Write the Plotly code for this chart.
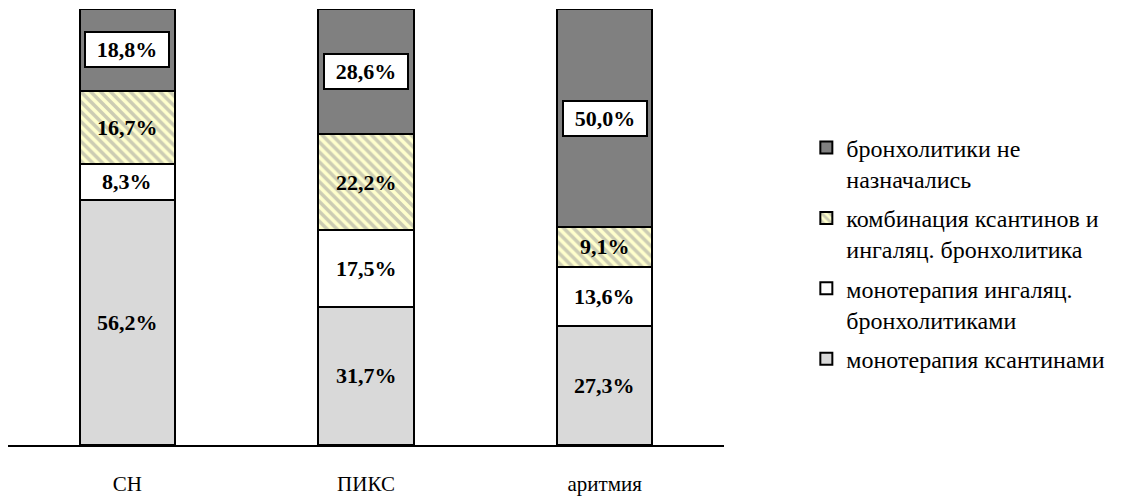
import plotly.graph_objects as go

categories = ["СН", "ПИКС", "аритмия"]
series_names = [
    "монотерапия ксантинами",
    "монотерапия ингаляц.<br>бронхолитиками",
    "комбинация ксантинов и<br>ингаляц. бронхолитика",
    "бронхолитики не<br>назначались",
]
xanthines = [56.2, 31.7, 27.3]
inhaled = [8.3, 17.5, 13.6]
combination = [16.7, 22.2, 9.1]
none_given = [18.8, 28.6, 50.0]

series_values = [xanthines, inhaled, combination, none_given]
colors = ["#d9d9d9", "#ffffff", "#ffffcc", "#808080"]

FONT = "Liberation Serif"

fig = go.Figure()
for i, (name, vals, col) in enumerate(zip(series_names, series_values, colors)):
    marker = dict(color=col, line=dict(color="black", width=2))
    if i == 2:
        marker["pattern"] = dict(shape="\\", fgcolor="#999999", bgcolor="#ffffcc",
                                 size=7, solidity=0.5)
    fig.add_trace(go.Bar(x=categories, y=vals, name=name, marker=marker,
                         legendgroup=f"g{i}", legendrank=10 - i, hoverinfo="skip"))

# value labels
annotations = []
for ci, cat in enumerate(categories):
    base = 0.0
    for si, vals in enumerate(series_values):
        v = vals[ci]
        label = f"{v:.1f}".replace(".", ",") + "%"
        ann = dict(x=cat, y=base + v / 2, xref="x", yref="y", text=f"<b>{label}</b>",
                   showarrow=False, font=dict(family=FONT, size=22, color="black"))
        if si == 3:
            ann.update(bgcolor="white", bordercolor="black", borderwidth=2,
                       borderpad=3, width=76, height=27)
        annotations.append(ann)
        base += v

fig.update_layout(
    width=1138, height=502,
    margin=dict(l=8, r=414, t=9, b=57),
    barmode="stack", bargap=0.6,
    plot_bgcolor="white", paper_bgcolor="white",
    font=dict(family=FONT, size=20, color="black"),
    annotations=annotations,
    showlegend=True,
    legend=dict(traceorder="grouped", x=1.115, xanchor="left", y=0.733,
                yanchor="top", valign="top", tracegroupgap=5,
                font=dict(family=FONT, size=24), bgcolor="rgba(0,0,0,0)"),
    xaxis=dict(showline=True, linecolor="black", linewidth=1.5, ticks="outside",
               ticklen=19, tickcolor="rgba(0,0,0,0)", showgrid=False, automargin=False,
               tickfont=dict(family=FONT, size=21, color="black"), fixedrange=True),
    yaxis=dict(range=[0, 100], visible=False, fixedrange=True, automargin=False),
)

fig.write_html("out.html")
